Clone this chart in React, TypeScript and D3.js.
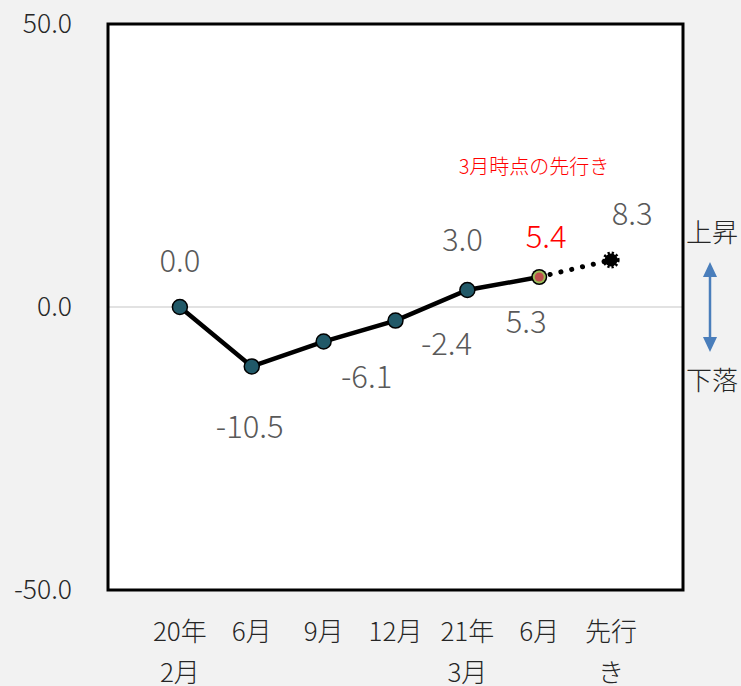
import React from "react";
import * as d3 from "d3";

// categories (two-line labels)
const categories = ["20年2月", "6月", "9月", "12月", "21年3月", "6月", "先行き"];
const catLine1 = ["20年", "6月", "9月", "12月", "21年", "6月", "先行"];
const catLine2 = ["2月", "", "", "", "3月", "", "き"];

// actual series (last point = outlook, drawn dotted)
const values = [0.0, -10.5, -6.1, -2.4, 3.0, 5.3, 8.3];
// outlook as of March, for the June point
const marchOutlook = 5.4;

const yTicks = [50, 0, -50];

// label centre offsets relative to the point (style only)
const labelOffsets: [number, number][] = [
  [0, -46],
  [-2, 61],
  [43, 36],
  [51, 24],
  [-5, -50],
  [-13, 45],
  [21, -46],
];

const W = 741;
const H = 686;
const plot = { left: 108, right: 683, top: 24, bottom: 590 };
const FONT = "'Noto Sans CJK JP', 'Noto Sans', sans-serif";

export default function App() {
  const x = d3
    .scalePoint<string>()
    .domain(categories.map((c, i) => `${i}`))
    .range([plot.left, plot.right])
    .padding(1);
  const y = d3.scaleLinear().domain([-50, 50]).range([plot.bottom, plot.top]);

  const pts = values.map((v, i) => ({ x: x(`${i}`) as number, y: y(v), v }));
  const line = d3
    .line<{ x: number; y: number }>()
    .x((d) => d.x)
    .y((d) => d.y);

  const solid = pts.slice(0, 6);
  const dotted = pts.slice(5, 7);
  const last = pts[6];
  const june = pts[5];

  const arrowX = 710;
  const arrowTop = 262;
  const arrowBot = 352;

  return (
    <svg
      width={W}
      height={H}
      style={{ position: "absolute", left: 0, top: 0 }}
      fontFamily={FONT}
      fontWeight={300}
    >
      <rect width={W} height={H} fill="#f2f2f2" />
      <rect
        x={plot.left}
        y={plot.top}
        width={plot.right - plot.left}
        height={plot.bottom - plot.top}
        fill="#ffffff"
      />
      {/* zero line */}
      <line
        x1={plot.left}
        x2={plot.right}
        y1={y(0)}
        y2={y(0)}
        stroke="#d9d9d9"
        strokeWidth={1.5}
      />
      <rect
        x={plot.left}
        y={plot.top}
        width={plot.right - plot.left}
        height={plot.bottom - plot.top}
        fill="none"
        stroke="#000"
        strokeWidth={3}
      />

      {/* y axis ticks */}
      {yTicks.map((t) => (
        <text
          key={t}
          x={72}
          y={y(t)}
          dy="0.35em"
          textAnchor="end"
          fontSize={26.5}
          fill="#262626"
        >
          {t.toFixed(1)}
        </text>
      ))}

      {/* category labels */}
      {categories.map((c, i) => (
        <g key={c + i} fontSize={26} fill="#262626" textAnchor="middle">
          <text x={x(`${i}`)} y={632} dy="0.35em">
            {catLine1[i]}
          </text>
          {catLine2[i] && (
            <text x={x(`${i}`)} y={673} dy="0.35em">
              {catLine2[i]}
            </text>
          )}
        </g>
      ))}

      {/* lines */}
      <path d={line(solid) || ""} fill="none" stroke="#000" strokeWidth={4.5} />
      <path
        d={line(dotted) || ""}
        fill="none"
        stroke="#000"
        strokeWidth={5}
        strokeLinecap="round"
        strokeDasharray="0.1 11"
      />

      {/* markers */}
      {pts.slice(0, 5).map((p, i) => (
        <circle
          key={i}
          cx={p.x}
          cy={p.y}
          r={7.5}
          fill="#215968"
          stroke="#000"
          strokeWidth={1.5}
        />
      ))}
      <circle cx={june.x} cy={june.y} r={8} fill="#000" />
      <circle cx={june.x} cy={june.y} r={6.5} fill="#9bbb59" />
      <circle cx={june.x} cy={june.y} r={4.5} fill="#c0504d" />
      <circle
        cx={last.x}
        cy={last.y}
        r={6.5}
        fill="#000"
        stroke="#000"
        strokeWidth={4}
        strokeDasharray="2 1.8"
      />

      {/* data labels */}
      {pts.map((p, i) => (
        <text
          key={i}
          x={p.x + labelOffsets[i][0]}
          y={p.y + labelOffsets[i][1]}
          dy="0.35em"
          textAnchor="middle"
          fontSize={31}
          fill="#595959"
        >
          {p.v.toFixed(1)}
        </text>
      ))}
      <text
        x={june.x + 7}
        y={june.y - 40}
        dy="0.35em"
        textAnchor="middle"
        fontSize={31}
        fill="#ff0000"
      >
        {marchOutlook.toFixed(1)}
      </text>
      <text
        x={534}
        y={167}
        dy="0.35em"
        textAnchor="middle"
        fontSize={20}
        fill="#ff0000"
      >
        3月時点の先行き
      </text>

      {/* up / down arrow */}
      <line
        x1={arrowX}
        x2={arrowX}
        y1={arrowTop + 10}
        y2={arrowBot - 10}
        stroke="#4a7ebb"
        strokeWidth={2.5}
      />
      <path
        d={`M${arrowX},${arrowTop} L${arrowX - 7},${arrowTop + 15} L${arrowX + 7},${arrowTop + 15} Z`}
        fill="#4a7ebb"
      />
      <path
        d={`M${arrowX},${arrowBot} L${arrowX - 7},${arrowBot - 15} L${arrowX + 7},${arrowBot - 15} Z`}
        fill="#4a7ebb"
      />
      <text x={712} y={233} dy="0.35em" textAnchor="middle" fontSize={26} fill="#262626">
        上昇
      </text>
      <text x={712} y={381} dy="0.35em" textAnchor="middle" fontSize={26} fill="#262626">
        下落
      </text>
    </svg>
  );
}
